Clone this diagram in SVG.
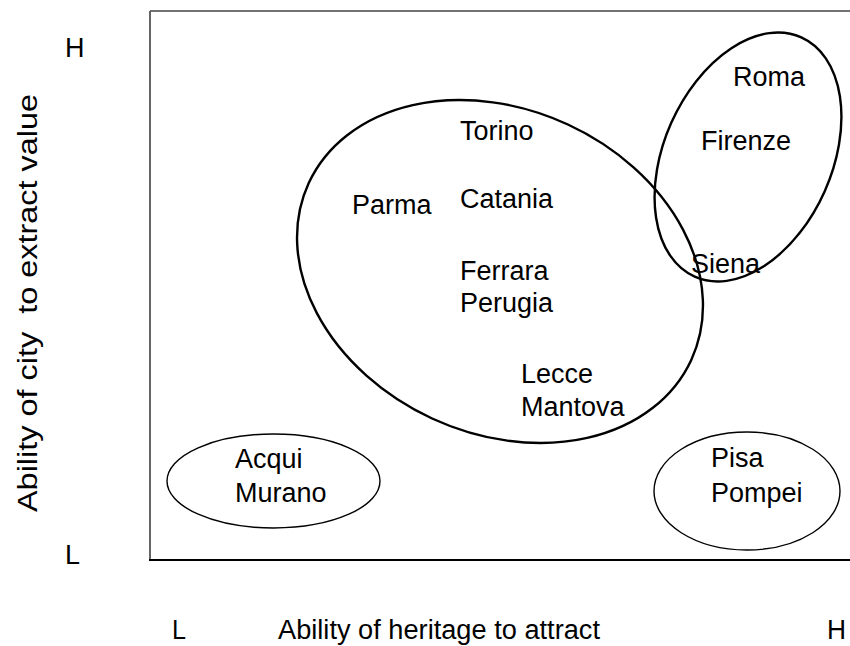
<svg xmlns="http://www.w3.org/2000/svg" width="850" height="646" viewBox="0 0 850 646">
<style>
.t{font-family:"Liberation Sans",Arial,sans-serif;font-size:27px;fill:#000}
.thick{fill:none;stroke:#000;stroke-width:2.4}
.thin{fill:none;stroke:#000;stroke-width:1.4}
</style>
<rect width="850" height="646" fill="#fff"/>
<g id="frame">
<line x1="150" y1="11" x2="850" y2="11" stroke="#444" stroke-width="1.5"/>
<line x1="150" y1="11" x2="150" y2="560" stroke="#555" stroke-width="1.8"/>
<line x1="149" y1="560" x2="850" y2="560" stroke="#000" stroke-width="2"/>
</g>
<g id="axes">
<text class="t" x="65" y="57">H</text>
<text class="t" x="65" y="564">L</text>
<text class="t" x="172" y="639" font-size="31" textLength="14" lengthAdjust="spacingAndGlyphs">L</text>
<text class="t" x="278" y="639" font-size="31" textLength="322" lengthAdjust="spacingAndGlyphs">Ability of heritage to attract</text>
<text class="t" x="827" y="639" font-size="31" textLength="19" lengthAdjust="spacingAndGlyphs">H</text>
<text class="t" xml:space="preserve" style="white-space:pre" transform="translate(37,512) rotate(-90)" font-size="30" textLength="418" lengthAdjust="spacingAndGlyphs">Ability of city  to extract value</text>
</g>
<g id="cluster-main">
<ellipse class="thick" cx="500" cy="271.5" rx="210.7" ry="161.9" transform="rotate(24.8 500 271.5)"/>
<text class="t" x="460" y="140">Torino</text>
<text class="t" x="352" y="214">Parma</text>
<text class="t" x="460" y="208">Catania</text>
<text class="t" x="460" y="280">Ferrara</text>
<text class="t" x="460" y="312">Perugia</text>
<text class="t" x="521" y="383">Lecce</text>
<text class="t" x="521" y="416">Mantova</text>
</g>
<g id="cluster-top">
<ellipse class="thick" cx="748" cy="157" rx="84" ry="131" transform="rotate(24 748 157)"/>
<text class="t" x="733" y="86">Roma</text>
<text class="t" x="701" y="150">Firenze</text>
<text class="t" x="691" y="273">Siena</text>
</g>
<g id="cluster-low">
<ellipse class="thin" cx="273.5" cy="481" rx="106.5" ry="47"/>
<text class="t" x="235" y="468">Acqui</text>
<text class="t" x="235" y="502">Murano</text>
</g>
<g id="cluster-right">
<ellipse class="thin" cx="747" cy="491" rx="93" ry="59"/>
<text class="t" x="711" y="467">Pisa</text>
<text class="t" x="711" y="502">Pompei</text>
</g>
</svg>
